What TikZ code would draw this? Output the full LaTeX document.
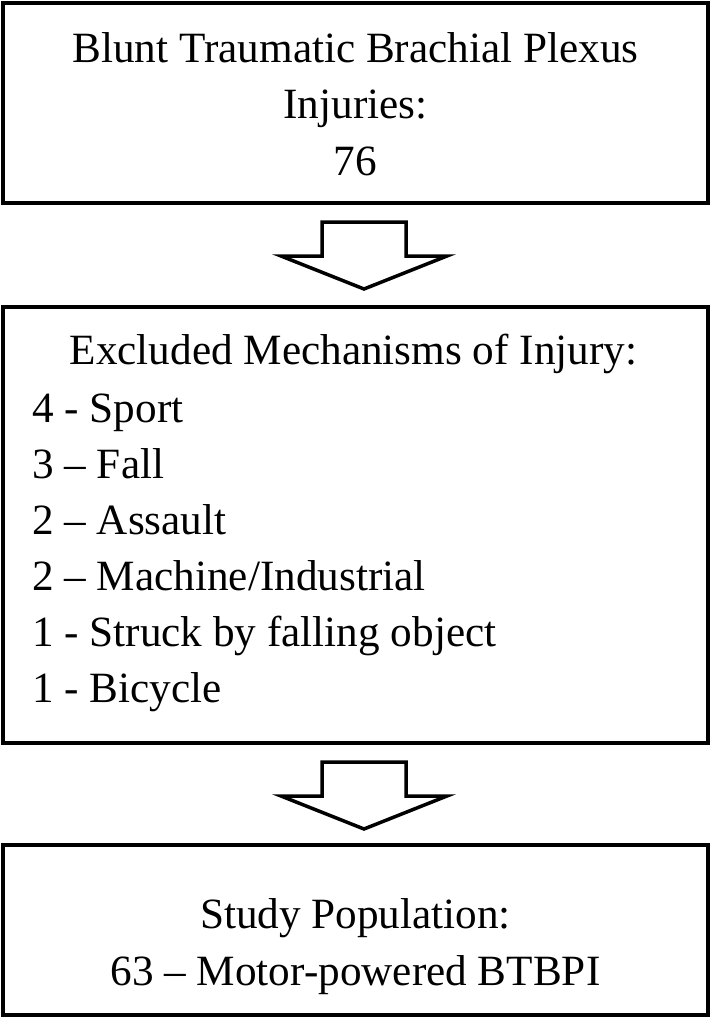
\documentclass[tikz,border=0pt]{standalone}
\usepackage{fontspec}
\setmainfont{Liberation Serif}
\usetikzlibrary{positioning,calc}

\tikzset{
  flowbox/.style={draw, line width=4pt, rectangle, minimum width=705pt, inner sep=0pt, outer sep=0pt},
  txt/.style={font=\fontsize{43.2}{52}\selectfont, inner sep=0pt, anchor=base},
  item/.style={txt, anchor=base west},
  blockarrow/.style={draw, line width=3.5pt, fill=white},
}

\begin{document}
\begin{tikzpicture}[x=1pt, y=1pt, node distance=104pt]
  \useasboundingbox (0,0) rectangle (712,-1018);

  \node[flowbox, minimum height=200pt] (injuries) at (355.5,-103) {};
  \node[flowbox, minimum height=436pt, below=of injuries] (excluded) {};
  \node[flowbox, minimum height=170pt, below=102pt of excluded] (population) {};

  % top box
  \node[txt] (inj1) at ($(injuries.north)+(0,-59)$) {Blunt Traumatic Brachial Plexus};
  \node[txt] (inj2) at ($(injuries.north)+(0,-115.5)$) {Injuries:};
  \node[txt] (inj3) at ($(injuries.north)+(0,-172)$) {76};

  % excluded mechanisms
  \node[txt] (exhead) at ($(excluded.north)+(-2,-57)$) {Excluded Mechanisms of Injury:};
  \foreach \lbl [count=\i] in {{4 - Sport}, {3 – Fall}, {2 – Assault},
      {2 – Machine/Industrial}, {1 - Struck by falling object}, {1 - Bicycle}}
    \node[item] (mech\i) at ($(excluded.north west)+(29,-59-56*\i)$) {\lbl};

  % study population
  \node[txt] (pop1) at ($(population.north)+(0,-83)$) {Study Population:};
  \node[txt] (pop2) at ($(population.north)+(0,-140)$) {63 – Motor-powered BTBPI};

  % block arrows between the boxes
  \foreach \a in {injuries, excluded}
    \draw[blockarrow] ($(\a.south)+(-33.5,-19)$) -- ($(\a.south)+(50.5,-19)$)
      -- ($(\a.south)+(50.5,-53)$) -- ($(\a.south)+(91.5,-53)$)
      -- ($(\a.south)+(8.5,-86)$) -- ($(\a.south)+(-74.5,-53)$)
      -- ($(\a.south)+(-33.5,-53)$) -- cycle;
\end{tikzpicture}
\end{document}
